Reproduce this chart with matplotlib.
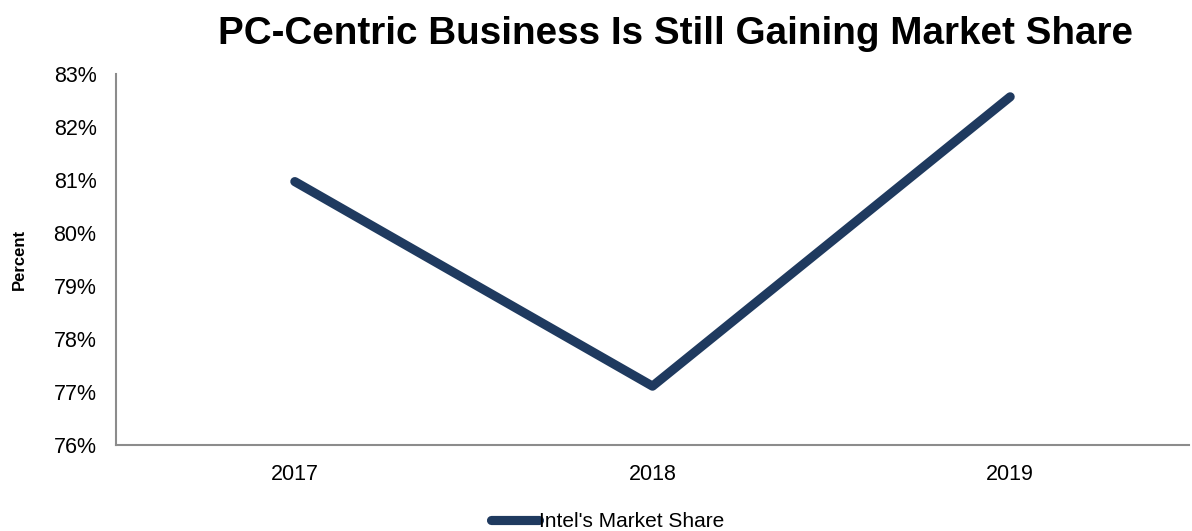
import matplotlib
matplotlib.use("Agg")
import matplotlib.pyplot as plt
from matplotlib.ticker import FuncFormatter

plt.rcParams['font.family'] = ['Liberation Sans', 'DejaVu Sans']

years = ['2017', '2018', '2019']
share = [80.97, 77.11, 82.57]

fig = plt.figure(figsize=(11.92, 5.31), dpi=100)
ax = fig.add_axes([0.0973, 0.162, 0.9002, 0.6986])

ax.plot(range(len(years)), share, color='#1F3A5F', linewidth=6.6,
        solid_capstyle='round', solid_joinstyle='round', label="Intel's Market Share")

ax.set_xlim(-0.5, 2.5)
ax.set_ylim(76, 83)
ax.set_xticks(range(len(years)))
ax.set_xticklabels(years)
ax.set_yticks(range(76, 84))
ax.yaxis.set_major_formatter(FuncFormatter(lambda v, p: f'{v:.0f}%'))
ax.tick_params(axis='both', length=0, labelsize=15.5, pad=14)
ax.tick_params(axis='x', pad=14)

for s in ['top', 'right']:
    ax.spines[s].set_visible(False)
for s in ['left', 'bottom']:
    ax.spines[s].set_color('#8C8C8C')
    ax.spines[s].set_linewidth(1.5)

ax.set_ylabel('Percent', fontsize=12, fontweight='bold')
ax.yaxis.set_label_coords(-0.083, 0.5)
fig.suptitle('PC-Centric Business Is Still Gaining Market Share', fontsize=27.8,
             fontweight='bold', x=0.567, y=0.97)

fig.legend(loc='lower center', bbox_to_anchor=(0.51, -0.035), frameon=False,
           fontsize=15, handlelength=2.3, handletextpad=0.0)

fig.savefig('out.png', dpi=100)
